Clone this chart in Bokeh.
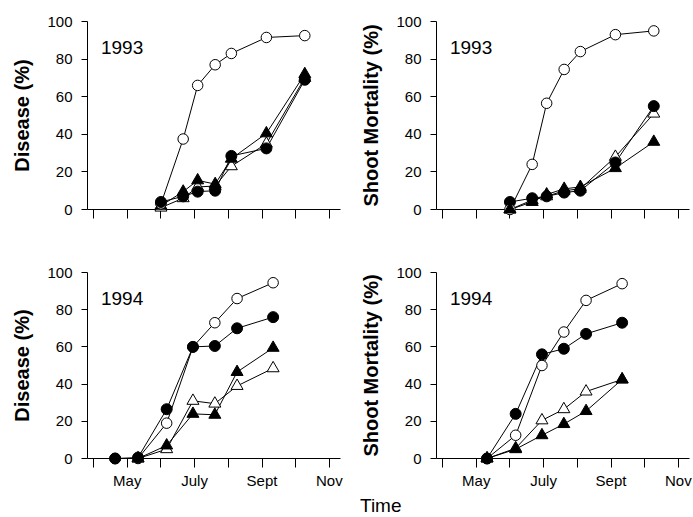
from bokeh.plotting import figure
from bokeh.layouts import column, row
from bokeh.models import Div, Label, FixedTicker, Range1d
from bokeh.embed import file_html
from bokeh.resources import INLINE

FONT = "Liberation Sans"

# month number on the time axis (April = 4 ... November = 11)
month_ticks = [4, 5, 6, 7, 8, 9, 10, 11]
month_labels = {4: "", 5: "May", 6: "", 7: "July", 8: "", 9: "Sept", 10: "", 11: "Nov"}
y_ticks = [0, 20, 40, 60, 80, 100]

# sampling dates (months)
dates_1993 = [6.0, 6.66, 7.09, 7.61, 8.09, 9.13, 10.27]
dates_1994 = [4.64, 5.32, 6.17, 6.95, 7.60, 8.26, 9.33]

# 1993 disease (%)
dis93_open_circle = [3, 37.5, 66, 77, 83, 91.5, 92.5]
dis93_filled_circle = [4, 7, 9.5, 10, 28.5, 32.5, 69]
dis93_filled_triangle = [2, 9.5, 15.5, 13.5, 27, 40.5, 72]
dis93_open_triangle = [1, 6, 12, 12.5, 23, 35, 70]

# 1993 shoot mortality (%)
mor93_open_circle = [0, 24, 56.5, 74.5, 84, 93, 95]
mor93_filled_circle = [4, 6, 7, 9, 10, 25, 55]
mor93_filled_triangle = [0, 4, 8, 11, 12, 22, 36]
mor93_open_triangle = [0, 5, 7, 10, 11, 28, 51]

# 1994 disease (%)
dis94_open_circle = [0, 0, 19, 60, 73, 86, 94.5]
dis94_filled_circle = [0, 0.5, 26.5, 60, 60.5, 70, 76]
dis94_filled_triangle = [0, 7, 24, 23.5, 46.5, 59.5]        # from 2nd date
dis94_open_triangle = [0, 5, 31, 29.5, 39, 48.5]            # from 2nd date

# 1994 shoot mortality (%) (from 2nd date)
mor94_open_circle = [0, 12.5, 50, 68, 85, 94]
mor94_filled_circle = [0, 24, 56, 59, 67, 73]
mor94_filled_triangle = [0, 5, 12.5, 18.5, 25.5, 42.5]
mor94_open_triangle = [0, 5.5, 20.5, 26.5, 36, 42.5]


def panel(series, ylabel, year, show_labels, left, right, top, bottom, frame_h):
    width = left + 253 + right
    height = top + frame_h + bottom
    p = figure(width=width, height=height,
               x_range=Range1d(3.82, 11.33), y_range=Range1d(0, 100),
               output_backend="svg", toolbar_location=None,
               min_border_left=left, min_border_right=right,
               min_border_top=top, min_border_bottom=bottom)
    p.xgrid.visible = False
    p.ygrid.visible = False
    p.outline_line_color = None
    p.background_fill_color = "white"
    p.border_fill_color = "white"

    for ax in (p.xaxis[0], p.yaxis[0]):
        ax.axis_line_color = "black"
        ax.axis_line_width = 1
        ax.major_tick_line_color = "black"
        ax.major_tick_in = 0
        ax.minor_tick_line_color = None
        ax.major_label_text_font = FONT
        ax.major_label_text_font_size = "15px"
        ax.major_label_text_color = "black"

    xa = p.xaxis[0]
    xa.ticker = FixedTicker(ticks=month_ticks)
    xa.major_tick_out = 9
    xa.major_label_standoff = 4
    if show_labels:
        xa.major_label_overrides = month_labels
    else:
        xa.major_label_overrides = {k: "" for k in month_ticks}
        xa.major_label_text_color = None

    ya = p.yaxis[0]
    ya.ticker = FixedTicker(ticks=y_ticks)
    ya.major_tick_out = 6
    ya.major_label_standoff = 9
    ya.axis_label = ylabel
    ya.axis_label_text_font = FONT
    ya.axis_label_text_font_size = "20px"
    ya.axis_label_text_font_style = "bold"
    ya.axis_label_text_color = "black"
    ya.axis_label_standoff = 11

    for xs, ys, marker, filled in series:
        r = p.line(xs, ys, line_color="black", line_width=1)
        r.level = "overlay"
    for xs, ys, marker, filled in series:
        if marker == "circle":
            size = 11 if filled else 10.5
        else:
            size = 12
        r = p.scatter(xs, ys, marker=marker, size=size, line_color="black",
                      line_width=1, fill_color="black" if filled else "white")
        r.level = "overlay"

    p.add_layout(Label(x=4.22, y=86, text=year, text_font=FONT,
                       text_font_size="19px", text_color="black",
                       text_baseline="alphabetic"))
    return p


d93 = dates_1993
d94 = dates_1994
d94b = dates_1994[1:]

p1 = panel([(d93, dis93_open_triangle, "triangle", False),
            (d93, dis93_filled_triangle, "triangle", True),
            (d93, dis93_open_circle, "circle", False),
            (d93, dis93_filled_circle, "circle", True)],
           "Disease (%)", "1993", False, 87, 10, 21, 30, 188)
p2 = panel([(d93, mor93_open_triangle, "triangle", False),
            (d93, mor93_filled_circle, "circle", True),
            (d93, mor93_open_circle, "circle", False),
            (d93, mor93_filled_triangle, "triangle", True)],
           "Shoot Mortality (%)", "1993", False, 86, 4, 21, 30, 188)
p3 = panel([(d94b, dis94_open_triangle, "triangle", False),
            (d94b, dis94_filled_triangle, "triangle", True),
            (d94, dis94_open_circle, "circle", False),
            (d94, dis94_filled_circle, "circle", True)],
           "Disease (%)", "1994", True, 87, 10, 33, 32, 187)
p4 = panel([(d94b, mor94_open_triangle, "triangle", False),
            (d94b, mor94_filled_triangle, "triangle", True),
            (d94b, mor94_open_circle, "circle", False),
            (d94b, mor94_filled_circle, "circle", True)],
           "Shoot Mortality (%)", "1994", True, 86, 4, 33, 32, 187)

time_label = Div(text="Time", width=60, height=26, margin=(0, 0, 0, 360),
                 styles={"font-family": FONT, "font-size": "19px", "color": "black",
                         "line-height": "22px", "padding-top": "4px",
                         "box-sizing": "border-box"})

page = column(row(p1, p2), row(p3, p4), time_label)

open("out.html", "w").write(file_html(page, INLINE))
